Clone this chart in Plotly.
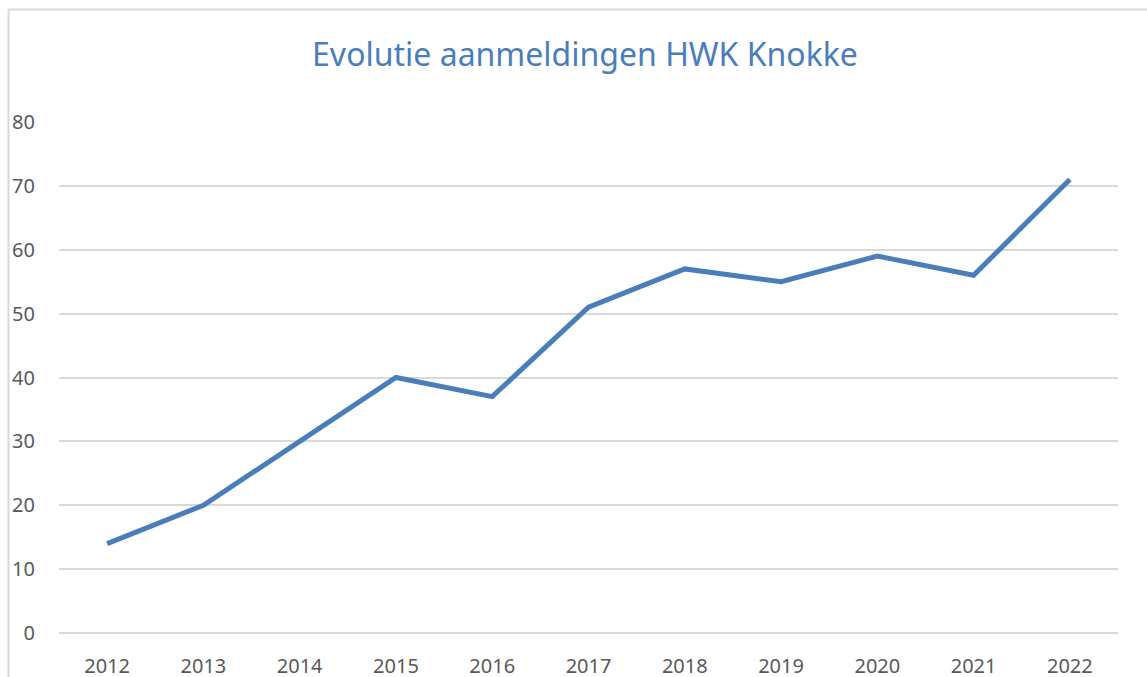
import plotly.graph_objects as go

years = ["2012", "2013", "2014", "2015", "2016", "2017", "2018", "2019", "2020", "2021", "2022"]
aanmeldingen = [14, 20, 30, 40, 37, 51, 57, 55, 59, 56, 71]
y_ticks = [0, 10, 20, 30, 40, 50, 60, 70, 80]

W, H = 1147, 677
ml, mr, mt, mb = 59, 29, 122, 44
pw, ph = W - ml - mr, H - mt - mb

fig = go.Figure()
fig.add_trace(go.Scatter(
    x=years, y=aanmeldingen, mode="lines",
    line=dict(color="#4a7ebb", width=5),
    hoverinfo="x+y", showlegend=False,
))

fig.update_layout(
    width=W, height=H,
    margin=dict(l=ml, r=mr, t=mt, b=mb),
    paper_bgcolor="white", plot_bgcolor="white",
    title=dict(text="Evolutie aanmeldingen HWK Knokke", x=585 / W, xanchor="center",
               y=1 - 55 / H, yanchor="middle",
               font=dict(family="Noto Sans", size=32, color="#4a7ebb")),
    font=dict(family="Noto Sans", color="#595959", size=20),
    xaxis=dict(type="category", range=[-0.5, len(years) - 0.5], automargin=False,
               showgrid=False, showline=False, zeroline=False,
               ticks="outside", ticklen=15, tickcolor="rgba(0,0,0,0)",
               tickfont=dict(size=20, color="#595959")),
    yaxis=dict(range=[0, 80], tickvals=y_ticks, automargin=False,
               showgrid=True, gridcolor="#d9d9d9", gridwidth=1.5,
               zeroline=True, zerolinecolor="#d9d9d9", zerolinewidth=1.5,
               showline=False,
               ticks="outside", ticklen=19, tickcolor="rgba(0,0,0,0)",
               tickfont=dict(size=20, color="#595959")),
    shapes=[
        dict(type="line", xref="paper", yref="paper",
             x0=(8.5 - ml) / pw, x1=(W + 5 - ml) / pw,
             y0=(H - mb - 9.5) / ph, y1=(H - mb - 9.5) / ph,
             line=dict(color="#d9d9d9", width=2)),
        dict(type="line", xref="paper", yref="paper",
             x0=(8.5 - ml) / pw, x1=(8.5 - ml) / pw,
             y0=(H - mb - 9.5) / ph, y1=-(mb + 5) / ph,
             line=dict(color="#d9d9d9", width=2)),
    ],
)

fig.write_html("out.html", config={"displayModeBar": False},
               post_script="document.body.style.margin='0';")
